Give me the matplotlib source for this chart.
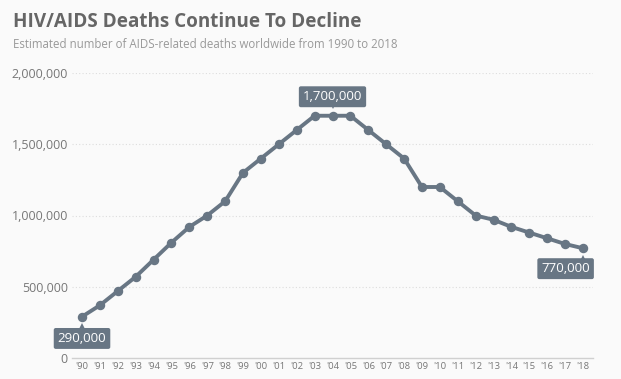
import numpy as np
import matplotlib.pyplot as plt
from matplotlib.ticker import FuncFormatter
from matplotlib.transforms import offset_copy

# data
years = list(range(1990, 2019))
deaths = [290000, 370000, 470000, 570000, 690000, 810000, 920000, 1000000,
          1100000, 1300000, 1400000, 1500000, 1600000, 1700000, 1700000,
          1700000, 1600000, 1500000, 1400000, 1200000, 1200000, 1100000,
          1000000, 970000, 920000, 880000, 840000, 800000, 770000]
year_labels = ["'" + str(y)[2:] for y in years]
y_ticks = [0, 500000, 1000000, 1500000, 2000000]

line_col = '#687684'
bg = '#fafafa'

plt.rcParams['font.family'] = ['Open Sans', 'DejaVu Sans']

fig = plt.figure(figsize=(6.21, 3.79), dpi=100, facecolor=bg)
ax = fig.add_axes([72/621, 1 - 358/379, 521/621, 285/379], facecolor=bg)

ax.plot(years, deaths, color=line_col, lw=2.8, marker='o', ms=5.8, zorder=3,
        solid_capstyle='round')

ax.set_xlim(1989.44, 2018.56)
ax.set_ylim(0, 2000000)
ax.set_xticks(years)
ax.set_xticklabels(year_labels)
ax.set_yticks(y_ticks)
ax.yaxis.set_major_formatter(FuncFormatter(lambda v, p: f'{int(v):,}'))
ax.tick_params(axis='y', length=0, labelsize=9, labelcolor='#777777', pad=3)
ax.tick_params(axis='x', length=0, labelsize=6.8, labelcolor='#777777', pad=3)

for s in ['top', 'right', 'left']:
    ax.spines[s].set_visible(False)
ax.spines['bottom'].set_color('#d0d0d0')
ax.spines['bottom'].set_linewidth(1)
for t in y_ticks[1:]:
    ax.axhline(t, color='#dddddd', lw=0.8, ls=(0, (1, 2)), zorder=1)

# value callouts with small pointer
box = dict(boxstyle='round,pad=0.3,rounding_size=0.15', fc=line_col, ec='none')

def callout(i, dx, dy, ha, va):
    ax.annotate(f'{deaths[i]:,}', (years[i], deaths[i]), xytext=(dx, dy),
                textcoords='offset points', ha=ha, va=va, color='white',
                fontsize=9.5, bbox=box, zorder=5)
    off = -7 if dy < 0 else 7
    tr = offset_copy(ax.transData, fig=fig, x=0, y=off, units='points')
    ax.plot(years[i], deaths[i], marker='^' if dy < 0 else 'v', ms=5,
            color=line_col, mew=0, transform=tr, zorder=5, clip_on=False)

callout(0, 0, -11, 'center', 'top')
callout(14, 0, 9, 'center', 'bottom')
callout(len(years) - 1, 5, -10, 'right', 'top')

fig.text(13/621, 1 - 27/379, 'HIV/AIDS Deaths Continue To Decline',
         fontsize=13.6, fontweight='bold', color='#666666', va='baseline')
fig.text(13/621, 1 - 48/379,
         'Estimated number of AIDS-related deaths worldwide from 1990 to 2018',
         fontsize=8.3, color='#999999', va='baseline')

fig.savefig('out.png', dpi=100, facecolor=bg)
